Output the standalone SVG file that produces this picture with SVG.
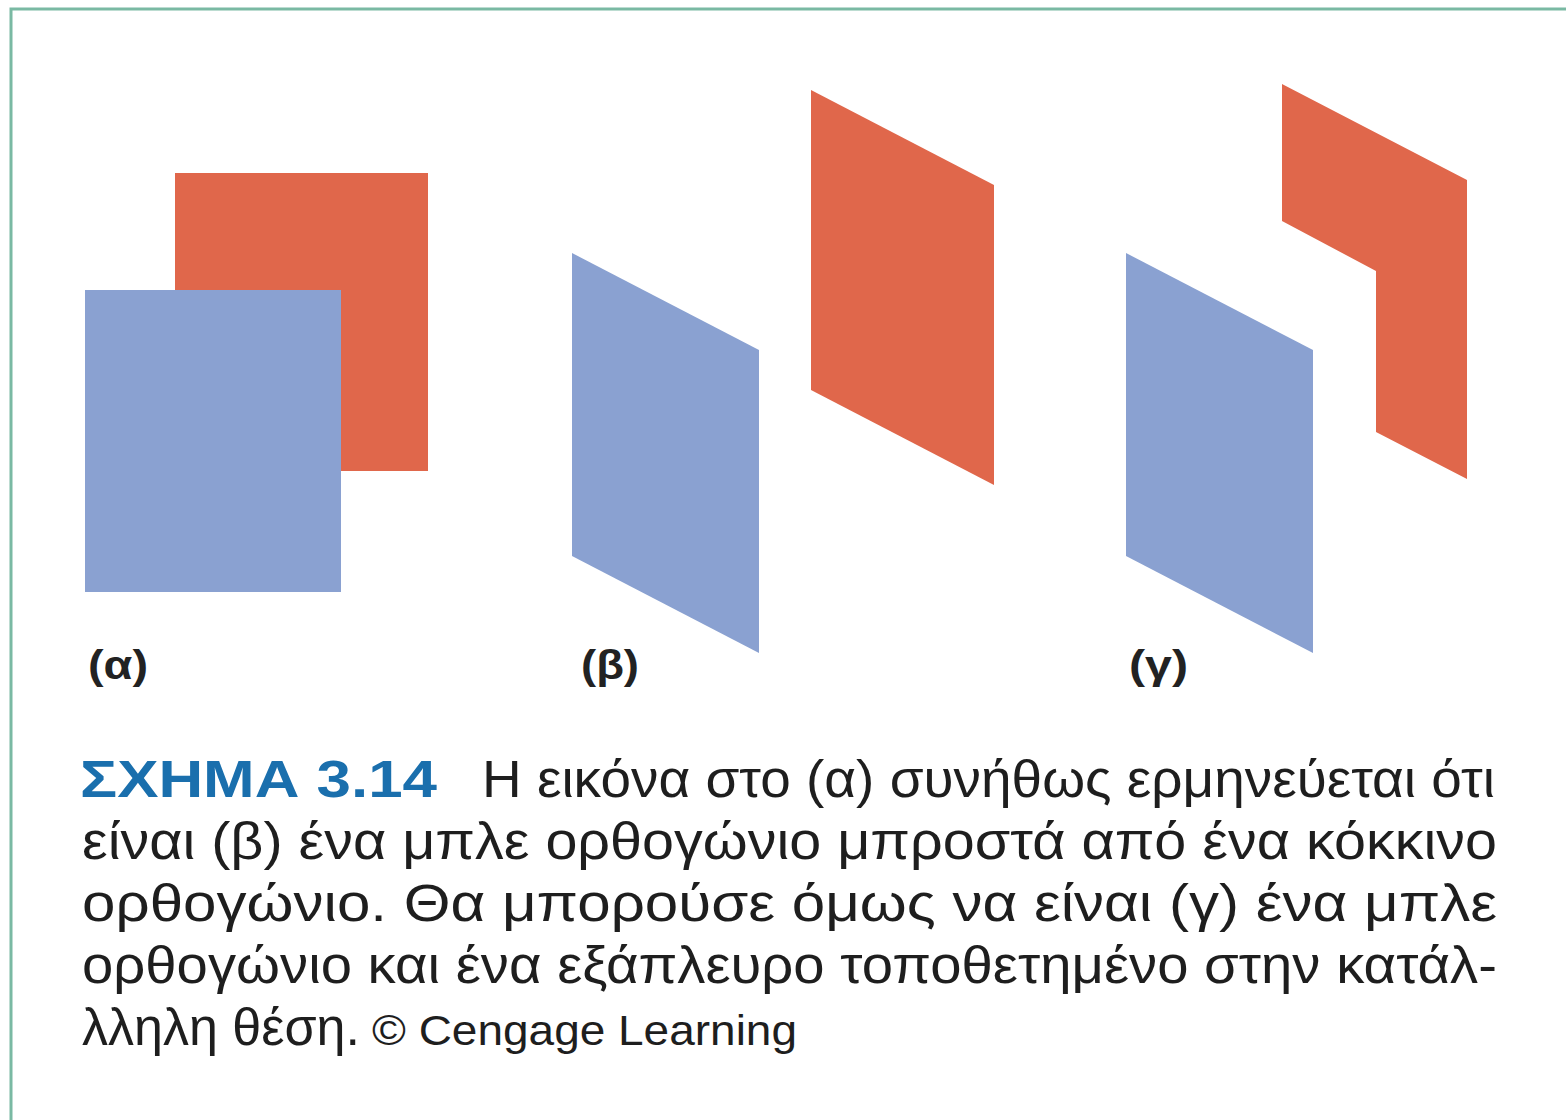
<svg xmlns="http://www.w3.org/2000/svg" width="1566" height="1120" viewBox="0 0 1566 1120">
<style>
.red{fill:#e0674b}
.blue{fill:#8aa1d1}
.lbl{font-family:"Liberation Sans",Arial,sans-serif;font-weight:bold;font-size:40px;fill:#222}
.cap{font-family:"Liberation Sans",Arial,sans-serif;font-size:51px;fill:#1e1e1e}
.head{font-family:"Liberation Sans",Arial,sans-serif;font-weight:bold;font-size:51px;fill:#1a6fad}
.small{font-family:"Liberation Sans",Arial,sans-serif;font-size:42px;fill:#1e1e1e}
</style>
<rect width="1566" height="1120" fill="#ffffff"/>
<path d="M11 1120 V9 H1566" fill="none" stroke="#7ab9a3" stroke-width="3"/>
<g id="panel-a">
<rect class="red" x="175" y="173" width="253" height="298"/>
<rect class="blue" x="85" y="290" width="256" height="302"/>
<text class="lbl" x="88" y="679" textLength="60" lengthAdjust="spacingAndGlyphs">(α)</text>
</g>
<g id="panel-b">
<polygon class="blue" points="572,253 759,350 759,653 572,556"/>
<polygon class="red" points="811,90 994,185 994,485 811,390"/>
<text class="lbl" x="581" y="679" textLength="58" lengthAdjust="spacingAndGlyphs">(β)</text>
</g>
<g id="panel-c">
<polygon class="blue" points="1126,253 1313,350 1313,653 1126,556"/>
<polygon class="red" points="1282,84 1467,180 1467,479 1376,432 1376,271 1282,221"/>
<text class="lbl" x="1129" y="679" textLength="59" lengthAdjust="spacingAndGlyphs">(γ)</text>
</g>
<g id="connectors"></g>
<g id="caption">
<text class="head" x="80" y="797" textLength="357" lengthAdjust="spacingAndGlyphs">ΣΧΗΜΑ 3.14</text>
<text class="cap" x="482" y="797" textLength="1013" lengthAdjust="spacingAndGlyphs">Η εικόνα στο (α) συνήθως ερμηνεύεται ότι</text>
<text class="cap" x="82" y="859" textLength="1415" lengthAdjust="spacingAndGlyphs">είναι (β) ένα μπλε ορθογώνιο μπροστά από ένα κόκκινο</text>
<text class="cap" x="82" y="921" textLength="1415" lengthAdjust="spacingAndGlyphs">ορθογώνιο. Θα μπορούσε όμως να είναι (γ) ένα μπλε</text>
<text class="cap" x="82" y="983" textLength="1415" lengthAdjust="spacingAndGlyphs">ορθογώνιο και ένα εξάπλευρο τοποθετημένο στην κατάλ-</text>
<text class="cap" x="82" y="1045" textLength="278" lengthAdjust="spacingAndGlyphs">λληλη θέση.</text>
<text class="small" x="372" y="1045" textLength="425" lengthAdjust="spacingAndGlyphs">© Cengage Learning</text>
</g>
</svg>
